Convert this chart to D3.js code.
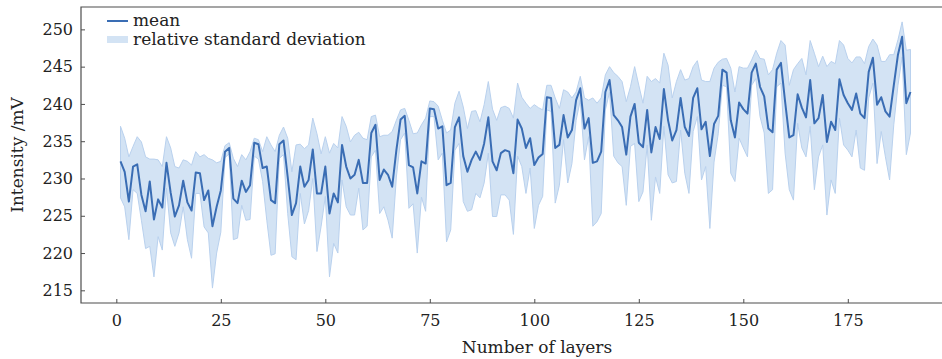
<!DOCTYPE html>
<html>
<head>
<meta charset="utf-8">
<script src="https://cdn.jsdelivr.net/npm/d3@7"></script>
<style>
  html, body { margin: 0; padding: 0; background: #fff; }
  svg { display: block; }
</style>
</head>
<body>
<div id="chart"></div>
<script>
// layer index 1..190
const layers = d3.range(1, 191);

const meanValues = [
  232.3, 230.9, 226.9, 231.6, 231.9, 227.8, 225.6, 229.6, 224.5, 227.2,
  226.1, 232.1, 228.1, 224.9, 226.4, 229.7, 226.8, 225.7, 230.8, 230.7,
  227.1, 228.4, 223.6, 226.2, 228.4, 233.6, 234.1, 227.3, 226.7, 229.7,
  228.2, 229.1, 234.8, 234.6, 231.4, 231.6, 227.1, 226.7, 234.6, 235.1,
  230.2, 225.1, 226.7, 231.6, 228.9, 229.8, 233.9, 228.0, 228.0, 231.6,
  225.3, 228.0, 226.8, 234.5, 231.6, 230.0, 230.5, 232.5, 229.4, 229.4,
  236.1, 237.2, 229.8, 231.2, 230.5, 228.9, 233.8, 237.9, 238.4, 231.8,
  231.5, 228.0, 232.3, 232.0, 239.4, 239.3, 236.7, 237.0, 229.1, 229.4,
  236.9, 238.2, 233.0, 230.9, 232.5, 233.6, 232.5, 234.7, 238.2, 232.3,
  231.1, 233.4, 233.8, 233.6, 230.7, 237.9, 236.7, 234.1, 235.4, 231.8,
  232.8, 233.3, 240.9, 240.8, 234.1, 234.5, 238.5, 235.5, 236.5, 240.5,
  242.1, 236.7, 238.1, 232.1, 232.3, 233.6, 241.6, 243.2, 238.5, 237.8,
  236.9, 233.2, 238.3, 240.0, 234.8, 234.2, 239.2, 233.5, 236.9, 235.3,
  242.0, 237.8, 235.1, 236.5, 240.8, 236.9, 235.7, 240.8, 242.1, 236.6,
  237.6, 233.0, 237.3, 238.4, 244.6, 244.2, 237.8, 235.5, 240.2, 239.3,
  238.7, 244.2, 245.4, 242.3, 241.0, 236.7, 236.2, 244.6, 245.5, 240.3,
  235.5, 235.8, 241.3, 239.5, 238.2, 243.2, 237.4, 238.1, 241.2, 234.9,
  237.6, 236.5, 243.3, 241.2, 240.1, 239.2, 241.4, 238.7, 238.1, 244.3,
  246.2, 239.9, 240.9, 239.0, 238.3, 242.5, 246.6, 249.0, 240.1, 241.6
];

const upperValues = [
  237.0, 235.4, 232.9, 234.3, 235.6, 234.9, 232.9, 232.6, 232.6, 232.5,
  231.6, 235.6, 234.1, 231.6, 231.4, 232.5, 232.3, 231.8, 233.6, 232.9,
  233.2, 232.7, 232.5, 232.1, 232.3, 234.4, 234.8, 232.7, 231.6, 233.2,
  232.5, 233.6, 235.4, 235.2, 233.6, 235.6, 234.5, 233.6, 235.8, 236.9,
  235.4, 230.9, 234.5, 234.6, 234.0, 234.5, 238.1, 236.0, 233.3, 235.6,
  233.4, 234.7, 234.1, 238.3, 237.0, 234.9, 235.8, 236.2, 235.4, 235.2,
  238.3, 238.5, 235.6, 235.8, 235.8, 236.3, 237.8, 239.2, 239.4, 237.8,
  236.0, 236.1, 237.2, 238.1, 240.4, 240.3, 239.7, 237.8, 236.1, 236.5,
  240.1, 241.7, 239.6, 236.7, 239.0, 239.1, 237.6, 239.9, 243.0, 239.3,
  237.8, 239.5, 239.7, 239.4, 238.1, 242.8, 240.9, 240.1, 239.4, 239.9,
  239.5, 239.2, 242.5, 242.5, 240.8, 239.4, 241.9, 241.6, 240.8, 241.6,
  243.7, 240.8, 240.5, 240.8, 240.1, 240.8, 243.9, 245.0, 244.2, 243.7,
  243.0, 240.3, 242.3, 245.0, 242.5, 240.1, 243.7, 243.0, 243.4, 242.8,
  246.8, 245.2, 240.8, 243.0, 244.6, 243.2, 243.4, 245.0, 245.8, 243.2,
  243.0, 243.0, 244.8, 245.6, 246.0, 246.1, 244.8, 241.6, 245.0, 244.8,
  244.8, 245.9, 247.2, 246.1, 246.0, 243.9, 244.6, 246.8, 248.5, 247.9,
  242.5, 244.6, 245.4, 246.1, 243.9, 248.5, 246.8, 245.0, 246.4, 245.0,
  245.7, 245.4, 248.5, 247.9, 246.1, 245.5, 246.3, 246.3, 245.4, 247.7,
  248.7, 247.9, 245.7, 245.7, 246.6, 246.6, 248.6, 251.0, 247.2, 247.3
];

const lowerValues = [
  227.4, 226.2, 221.8, 228.5, 228.0, 224.4, 220.6, 220.9, 216.8, 222.2,
  220.4, 228.7, 222.7, 220.9, 222.7, 226.2, 221.8, 219.3, 228.0, 228.0,
  223.5, 222.7, 215.3, 220.0, 222.8, 232.8, 233.3, 221.8, 222.0, 226.4,
  224.4, 224.5, 233.0, 232.6, 229.6, 224.4, 219.7, 219.9, 232.7, 233.2,
  225.3, 219.5, 219.1, 228.0, 223.9, 225.7, 230.0, 220.2, 223.6, 227.6,
  216.8, 221.3, 220.0, 229.8, 226.2, 225.1, 225.1, 228.7, 223.1, 223.6,
  232.9, 233.8, 225.3, 226.2, 224.4, 222.0, 230.2, 235.2, 236.1, 226.0,
  226.6, 220.0, 227.5, 225.6, 238.3, 238.3, 232.5, 233.4, 221.5, 223.1,
  233.8, 234.7, 226.9, 225.6, 225.8, 228.0, 227.4, 229.4, 233.4, 224.9,
  224.9, 227.8, 227.8, 227.1, 222.5, 233.0, 231.6, 228.0, 231.4, 223.3,
  226.4, 227.6, 239.2, 239.0, 226.7, 229.1, 235.2, 229.4, 232.0, 237.8,
  240.5, 232.5, 235.6, 223.6, 224.2, 225.3, 239.2, 241.6, 233.0, 232.1,
  231.6, 226.4, 234.3, 234.7, 226.9, 228.2, 234.5, 224.4, 230.2, 228.0,
  237.0, 230.5, 229.4, 229.6, 236.5, 230.7, 228.0, 236.3, 238.3, 229.8,
  231.6, 223.3, 232.2, 236.0, 242.5, 242.3, 230.7, 229.6, 235.4, 234.1,
  232.9, 242.5, 243.4, 238.3, 236.1, 228.0, 228.5, 242.3, 242.8, 233.4,
  228.5, 227.1, 237.4, 234.1, 232.9, 237.0, 228.5, 232.9, 234.5, 225.1,
  229.8, 228.0, 238.1, 234.5, 233.8, 232.9, 236.5, 231.4, 231.1, 240.8,
  242.8, 232.0, 236.3, 232.9, 229.8, 237.2, 242.5, 246.3, 233.2, 236.1
];

const xTicks = [0, 25, 50, 75, 100, 125, 150, 175];
const yTicks = [215, 220, 225, 230, 235, 240, 245, 250];

const width = 942;
const height = 359;
// the frame runs a little past the right edge of the picture
const margin = { top: 7, right: -8, bottom: 56, left: 81 };
const innerWidth = width - margin.left - margin.right;
const innerHeight = height - margin.top - margin.bottom;
const visibleWidth = width - margin.left;

const fontFamily = '"DejaVu Serif", "Liberation Serif", serif';
const lineColor = '#3a6db4';
const bandColor = '#d3e3f4';
const bandEdge = '#b9d1ee';
const axisColor = '#4d4d4d';

const svg = d3.select('#chart')
  .append('svg')
  .attr('width', width)
  .attr('height', height);

svg.append('defs')
  .append('clipPath')
  .attr('id', 'plot-clip')
  .append('rect')
  .attr('width', visibleWidth)
  .attr('height', innerHeight);

const g = svg.append('g')
  .attr('transform', `translate(${margin.left},${margin.top})`);

const x = d3.scaleLinear()
  .domain([-8.45, 199.45])
  .range([0, innerWidth]);

const y = d3.scaleLinear()
  .domain([213.3, 253.0])
  .range([innerHeight, 0]);

const rows = layers.map((l, i) => ({
  layer: l, mean: meanValues[i], upper: upperValues[i], lower: lowerValues[i]
}));

const plot = g.append('g').attr('clip-path', 'url(#plot-clip)');

// 1. band
const area = d3.area()
  .x(d => x(d.layer))
  .y0(d => y(d.lower))
  .y1(d => y(d.upper));

plot.append('path')
  .datum(rows)
  .attr('d', area)
  .attr('fill', bandColor)
  .attr('stroke', bandEdge)
  .attr('stroke-width', 1);

// 2. mean line
const line = d3.line()
  .x(d => x(d.layer))
  .y(d => y(d.mean));

plot.append('path')
  .datum(rows)
  .attr('d', line)
  .attr('fill', 'none')
  .attr('stroke', lineColor)
  .attr('stroke-width', 2)
  .attr('stroke-linejoin', 'round');

// 3. axes (ticks pointing inward)
const xAxis = g.append('g')
  .attr('transform', `translate(0,${innerHeight})`)
  .call(d3.axisBottom(x).tickValues(xTicks).tickSizeInner(-4).tickSizeOuter(0).tickPadding(12));

const yAxis = g.append('g')
  .call(d3.axisLeft(y).tickValues(yTicks).tickSizeInner(-4).tickSizeOuter(0).tickPadding(8));

[xAxis, yAxis].forEach(ax => {
  ax.select('.domain').remove();
  ax.selectAll('line').attr('stroke', axisColor).attr('stroke-width', 1);
  ax.selectAll('text')
    .attr('fill', '#222')
    .style('font-family', fontFamily)
    .style('font-size', '16px');
});

// frame: left, top, bottom (right side is off the picture)
g.append('path')
  .attr('d', `M${visibleWidth},0H0V${innerHeight}H${visibleWidth}`)
  .attr('fill', 'none')
  .attr('stroke', axisColor)
  .attr('stroke-width', 1.2);

// 4. axis titles
svg.append('text')
  .attr('x', 537)
  .attr('y', 353)
  .attr('text-anchor', 'middle')
  .attr('fill', '#222')
  .style('font-family', fontFamily)
  .style('font-size', '17px')
  .text('Number of layers');

svg.append('text')
  .attr('transform', `translate(23,155) rotate(-90)`)
  .attr('text-anchor', 'middle')
  .attr('fill', '#222')
  .style('font-family', fontFamily)
  .style('font-size', '17px')
  .text('Intensity /mV');

// 5. legend
const legend = svg.append('g').attr('transform', 'translate(107,21)');

legend.append('line')
  .attr('x1', 0).attr('x2', 21)
  .attr('y1', 0).attr('y2', 0)
  .attr('stroke', lineColor)
  .attr('stroke-width', 2);

legend.append('rect')
  .attr('x', 0).attr('y', 15)
  .attr('width', 21).attr('height', 7)
  .attr('fill', bandColor);

legend.selectAll('text.lbl')
  .data(['mean', 'relative standard deviation'])
  .enter()
  .append('text')
  .attr('class', 'lbl')
  .attr('x', 26)
  .attr('y', (d, i) => 5 + i * 19)
  .attr('fill', '#222')
  .style('font-family', fontFamily)
  .style('font-size', '17px')
  .text(d => d);
</script>
</body>
</html>
